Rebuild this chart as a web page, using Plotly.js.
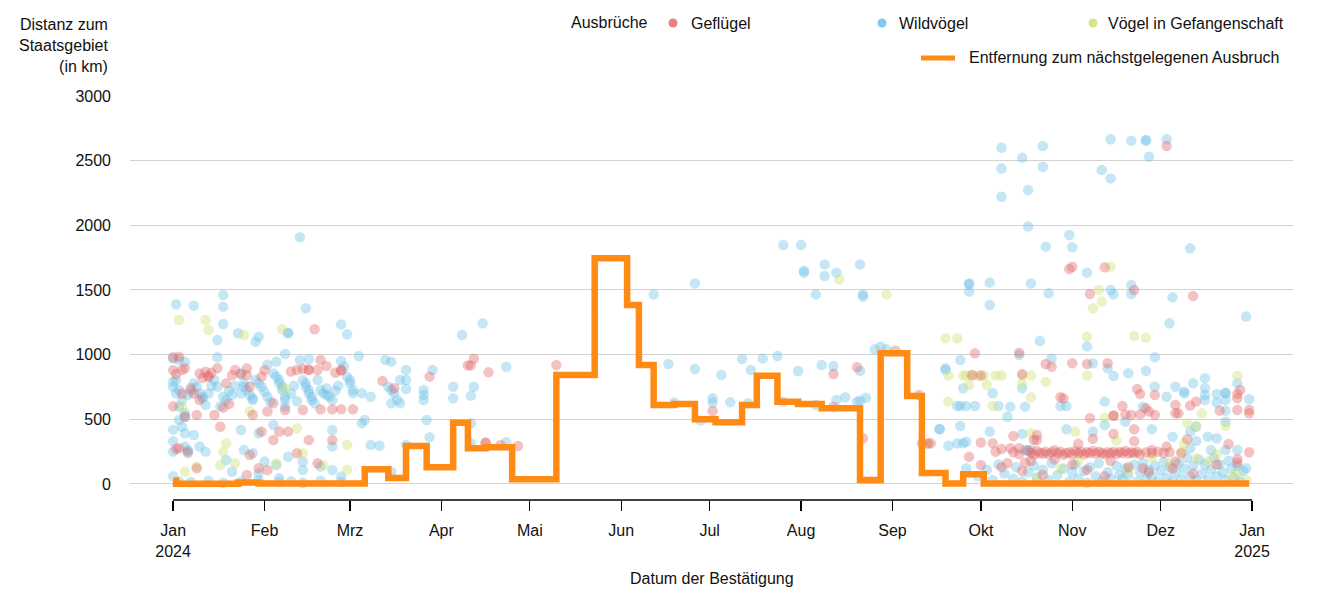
<!DOCTYPE html>
<html><head><meta charset="utf-8">
<script src="https://cdn.plot.ly/plotly-3.0.1.min.js"></script>
<style>html,body{margin:0;padding:0;background:#fff}#chart{width:1333px;height:600px}</style>
</head><body><div id="chart"></div>
<script>
// ---------- DATA ----------
const monthTickVals = ['2024-01-01','2024-02-01','2024-03-01','2024-04-01','2024-05-01','2024-06-01','2024-07-01','2024-08-01','2024-09-01','2024-10-01','2024-11-01','2024-12-01','2025-01-01'];
const monthTickText = ['Jan<br>2024','Feb','Mrz','Apr','Mai','Jun','Jul','Aug','Sep','Okt','Nov','Dez','Jan<br>2025'];
const yTickVals = [0,500,1000,1500,2000,2500,3000];

// Geflügel outbreaks: [MM-DD 2024, km]
const gefluegelPoints = [
['01-01',880],['01-01',980],['01-02',270],['01-01',600],
['01-03',984],['01-04',881],['01-05',894],['01-10',855],['01-12',868],['01-13',830],['01-13',835],['01-16',894],['01-19',778],['01-22',881],['01-26',894],['01-26',843],['01-27',752],['01-31',830],['02-04',624],['02-12',881],['02-16',881],['02-16',885],['02-19',881],['02-20',958],['02-22',912],['02-27',881],['02-27',878],['02-18',1196],['03-12',796],['03-16',740],['01-07',740],['01-10',649],['01-15',533],['01-17',443],['01-05',520],['01-09',533],['01-28',533],['01-31',405],['02-06',405],['02-09',405],['02-08',572],['02-14',572],['02-20',577],['02-24',577],['02-27',577],['03-02',577],['02-04',340],['02-16',340],['02-24',340],['01-03',276],['01-06',250],['01-09',121],['01-26',70],['01-30',121],['02-02',108],['02-12',237],['02-19',160],['01-27',224],
['01-08',700],['01-20',620],['01-24',850],['02-02',560],['01-11',820],['01-14',860],['01-21',840],['02-10',870],['02-14',890],['02-25',860],['01-18',590],['02-01',880],['01-02',850],['01-04',700],
['03-28',830],['04-10',917],['04-11',917],['04-12',969],['04-17',863],['05-10',920],['04-16',314],['04-16',320],['04-21',301],['04-27',294],
['07-02',564],['08-12',850],['08-20',902],['08-22',353],['09-02',1031],['09-10',688],['09-13',314],['09-11',314],['08-12',598],
['10-31',1662],['11-01',1680],['11-12',1675],['11-07',1469],['09-29',1010],['10-14',1015],['10-23',928],['10-25',907],['11-01',933],['11-06',928],['11-13',933],['09-28',843],['10-01',838],['10-15',850],['10-28',670],['10-29',662],['11-07',508],['11-15',528],['09-14',314],['10-01',320],['10-05',314],['10-11',276],['10-14',276],['09-27',211],['10-01',147],['10-10',160],['10-16',165],['10-20',379],['10-20',340],
['10-06',250],['10-08',270],['10-12',245],['10-14',230],['10-17',260],['10-18',240],['10-19',225],['10-20',255],['10-21',240],['10-22',235],['10-23',250],['10-24',230],['10-25',245],['10-26',260],['10-27',238],['10-28',250],['10-29',225],['10-30',240],['10-31',245],['11-01',230],['11-02',255],['11-03',240],['11-04',250],['11-05',230],['11-06',245],['11-07',240],['11-08',255],['11-09',235],['11-10',250],['11-11',240],['11-12',230],['11-13',245],['11-14',238],['11-15',250],['11-16',232],['11-17',248],['11-18',240],['11-19',255],['11-20',235],['11-21',245],['11-22',240],['11-23',250],['11-24',230],['11-26',245],['11-28',240],['11-30',250],['12-02',240],['12-04',245],
['10-08',130],['10-15',100],['10-22',70],['11-01',150],['11-06',110],['11-12',60],['11-20',130],['11-27',90],['12-05',120],['12-12',80],['12-20',150],['10-18',180],['10-26',190],['11-03',310],['11-08',350],['11-14',180],['11-22',330],['10-12',370],['10-19',340],
['12-03',2613],['11-22',1500],['12-12',1453],['11-23',734],['11-24',696],['11-29',688],['12-27',696],['12-28',727],['12-27',662],['12-27',572],['12-31',572],['12-31',546],['12-13',637],['12-11',606],['12-07',546],['12-06',546],['11-26',585],['11-27',560],['11-29',533],['11-21',533],['11-19',538],['11-15',530],['11-24',538],['12-06',611],['11-18',603],['12-21',567],['11-15',387],['11-22',423],['12-10',345],['12-24',309],['12-31',245],['12-27',191],['12-27',165],['12-03',289],['11-28',263],['12-08',237],['12-06',173],['11-25',121]
];

// Wildvögel outbreaks
const wildvoegelPoints = [
['01-02',1389],['01-08',1379],['01-18',1461],['01-18',1371],['01-18',1237],['01-16',1113],['01-23',1165],['01-30',1139],['01-29',1100],['02-09',1165],['02-09',1170],['02-15',1358],['02-27',1234],['02-29',1157],['03-04',990],['03-15',946],['02-08',1005],['02-16',966],['02-27',951],['02-02',923],['02-05',946],['01-16',979],['01-03',959],['01-05',946],['02-13',1908],
['01-01',970],['01-01',790],['01-01',750],['01-01',420],['01-01',330],['01-01',250],['01-01',60],
['01-02',804],['01-02',701],['01-03',727],['01-03',598],['01-04',649],['01-05',546],['01-05',520],['01-08',778],['01-09',752],['01-10',701],['01-11',675],['01-11',662],['01-12',611],['01-15',804],['01-16',752],['01-18',675],['01-19',649],['01-24',855],['01-25',778],['01-25',752],['01-26',727],['01-27',688],['01-28',662],['01-28',649],['01-29',804],['01-30',778],['01-31',752],['02-01',714],['02-02',675],['02-03',636],['02-04',855],['02-05',830],['02-06',804],['02-06',778],['02-07',752],['02-07',727],['02-08',675],['02-08',649],['02-08',598],['02-13',958],['02-14',804],['02-15',778],['02-15',752],['02-16',727],['02-16',701],['02-17',675],['02-17',649],['02-18',624],['02-19',804],['02-20',727],['02-21',701],['02-22',688],['02-23',675],['02-24',649],['02-28',907],['02-29',830],['03-01',804],['03-01',778],['03-02',727],['03-02',701],['03-05',701],['03-08',675],['03-13',958],['03-14',752],['03-15',727],['03-16',701],['03-17',649],['03-18',624],
['01-06',690],['01-07',720],['01-13',700],['01-14',760],['01-20',720],['01-21',690],['01-22',760],['02-10',700],['02-11',760],['02-25',720],['02-26',760],['01-17',600],['02-12',640],['02-22',740],['01-24',700],
['01-03',495],['01-04',443],['01-05',392],['01-05',289],['01-06',263],['01-06',237],['01-08',379],['01-10',289],['01-12',250],['01-19',185],['01-21',95],['01-24',417],['01-25',263],['01-28',237],['01-30',392],['01-30',82],['02-01',173],['02-04',456],['02-05',147],['02-06',44],['02-09',211],['02-14',173],['02-14',108],['02-20',134],['02-24',417],['02-24',108],['02-24',289],['02-27',57],['03-05',469],['03-06',495],['03-08',302],['03-11',296],
['01-03',20],['01-07',15],['01-13',25],['01-18',10],['01-24',20],['01-30',30],['02-06',15],['02-10',20],['02-14',10],['02-20',25],['02-27',15],
['03-20',881],['03-29',881],['03-18',804],['03-20',804],['03-20',734],['03-26',727],['03-26',688],['03-26',649],['03-15',624],['04-05',752],['04-05',662],['04-08',1152],['04-15',1242],['04-12',752],['04-11',683],['04-23',907],['03-27',495],['03-28',361],['04-11',469],['04-11',314],['04-23',322],['03-15',95],['03-20',302],
['06-12',1466],['06-26',1551],['06-17',928],['06-26',889],['07-05',843],['07-02',629],['07-02',662],['07-08',631],['07-12',966],['07-15',881],['07-19',971],['07-24',990],['07-26',1848],['08-01',1848],['07-31',874],['08-02',1649],['08-02',1634],['08-09',1698],['08-09',1608],['08-13',1634],['08-06',1466],['08-21',1698],['08-22',1466],['08-22',1450],['08-08',920],['08-12',912],['08-21',876],['08-13',649],['08-16',670],['08-20',636],['08-21',644],['08-23',667],['08-26',1041],['08-28',1062],['08-30',1041],['09-19',881],['09-17',425],['09-20',296],['06-19',629],['06-28',490],['07-14',624],['07-26',636],['08-06',611],
['10-08',2600],['10-08',2440],['10-08',2221],['10-15',2523],['10-22',2613],['10-22',2453],['10-17',2273],['10-17',1990],['10-23',1835],['10-31',1925],['11-01',1830],['11-06',1634],['11-14',2665],['11-11',2428],['11-14',2363],['09-27',1551],['09-27',1545],['09-27',1487],['10-04',1557],['10-04',1384],['10-18',1551],['10-24',1474],['10-21',1106],['11-06',1062],['11-14',1500],['11-15',1466],['09-24',959],['09-19',894],['10-14',997],['10-25',971],['11-08',933],['11-13',894],['11-15',835],['09-25',740],['10-05',701],['10-15',740],
['09-23',603],['09-24',603],['09-26',603],['09-29',603],['10-07',603],['10-11',598],['10-16',598],['10-28',603],['10-30',603],['10-10',520],['11-12',637],['11-12',456],['09-17',423],['09-24',448],['10-04',405],['09-23',314],['09-25',314],['09-26',327],['10-15',387],['10-30',423],['11-08',405],['10-16',263],['10-18',263],['10-17',255],
['09-26',120],['09-30',60],['10-03',110],['10-05',30],['10-07',150],['10-09',80],['10-12',40],['10-13',130],['10-15',20],['10-17',90],['10-19',140],['10-20',50],['10-22',110],['10-24',30],['10-25',160],['10-27',70],['10-29',120],['10-31',20],['11-01',90],['11-02',150],['11-03',40],['11-05',100],['11-06',10],['11-07',130],['11-09',60],['11-10',160],['11-11',20],['11-13',90],['11-14',40],['11-16',140],['11-17',70],
['11-21',2654],['11-26',2660],['11-26',2655],['12-03',2665],['11-27',2531],['12-11',1822],['11-21',1538],['11-21',1469],['12-05',1443],['12-04',1242],['12-30',1294],['11-29',979],['11-20',856],['11-26',876],['12-16',817],['12-12',778],['11-29',752],['12-06',752],['12-03',675],['12-09',701],['12-09',714],['12-16',740],['12-16',688],['12-16',649],['12-20',696],['12-23',701],['12-23',706],['12-23',649],['12-20',629],['12-23',567],['12-27',778],['12-31',655],['11-19',482],['11-25',598],['11-28',423],['12-11',405],['12-13',443],['12-17',366],['12-20',353],['12-23',482],['12-05',366],['12-13',333],['12-11',276],['12-18',263],['12-23',263],['12-27',263],['12-30',121],
['11-18',40],['11-19',120],['11-20',70],['11-22',150],['11-23',20],['11-24',90],['11-25',160],['11-26',40],['11-27',110],['11-28',60],['11-29',140],['11-30',20],['12-01',100],['12-02',170],['12-03',50],['12-04',130],['12-05',20],['12-06',90],['12-07',160],['12-08',40],['12-09',120],['12-10',200],['12-11',60],['12-12',140],['12-13',30],['12-14',190],['12-15',80],['12-16',150],['12-17',30],['12-18',110],['12-19',200],['12-20',60],['12-21',150],['12-22',90],['12-23',30],['12-24',180],['12-25',120],['12-26',50],['12-27',140],['12-28',20],['12-29',100]
];

// Vögel in Gefangenschaft
const gefangenschaftPoints = [
['01-03',1268],['01-12',1268],['01-13',1190],['01-25',1152],['02-07',1196],['02-08',740],['01-04',598],['01-27',564],['02-12',430],['01-19',314],['01-18',250],['01-09',134],['01-05',95],['01-22',160],['02-05',160],['02-14',237],['02-21',147],['02-29',302],['02-29',108],['01-17',147],
['08-14',1582],['08-30',1466],['09-19',1126],['09-20',838],['09-20',637],['09-13',307],
['09-23',1126],['09-25',838],['09-26',838],['09-28',838],['09-30',838],['10-02',838],['10-06',838],['10-08',838],['09-27',765],['10-03',765],['10-15',838],['10-18',838],['10-15',778],['10-23',791],['10-18',670],['10-05',603],['11-06',1139],['11-06',838],['11-10',1500],['11-11',1410],['11-08',1358],['11-14',1680],['11-12',513],['10-18',392],['11-02',405],
['11-22',1144],['11-26',1131],['12-27',835],['12-15',546],['12-10',469],['12-23',448],['12-13',448],['12-09',314],['11-16',335],['12-13',198],['12-04',160],['12-17',173],['12-27',82],['12-30',31],
['10-20',50],['10-28',120],['11-03',180],['11-20',100],['11-28',200],['12-08',250],['12-20',230],['12-25',60]
];

// Entfernung zum nächstgelegenen Ausbruch (step line)
const distanceDates = ['2024-01-01','2024-01-02','2024-01-23','2024-01-30','2024-03-06','2024-03-14','2024-03-20','2024-03-27','2024-04-05','2024-04-10','2024-04-16','2024-04-25','2024-05-10','2024-05-23','2024-06-03','2024-06-07','2024-06-12','2024-06-19','2024-06-26','2024-07-03','2024-07-12','2024-07-17','2024-07-24','2024-07-31','2024-08-08','2024-08-21','2024-08-28','2024-09-06','2024-09-11','2024-09-19','2024-09-25','2024-10-02','2024-12-31'];
const distanceKm = [25,2,12,3,114,46,294,129,474,276,284,36,843,1745,1384,920,611,619,500,477,611,837,636,619,585,31,1010,680,85,3,75,3,3];

// ---------- CHART ----------
const FONT = 'Liberation Sans, Arial, sans-serif';
const TXT = '#111';
const FS = 16;
const W = 1333, H = 600, L = 130, R = 40, T = 96, B = 100;
const pw = W - L - R, ph = H - T - B;
const px = x => (x - L) / pw;
function paperY(y){ return (T + ph - y) / ph; }

function pts(arr){ return {x: arr.map(p => '2024-' + p[0]), y: arr.map(p => p[1])}; }

const C_RED = '#e06a6a', C_BLUE = '#6ec0e6', C_GREEN = '#cde070', C_ORANGE = '#ff8a14';

const mk = (arr, color, name) => Object.assign(pts(arr), {
  type: 'scatter', mode: 'markers', name: name, showlegend: false, hoverinfo: 'skip',
  marker: {size: 10.5, color: color, opacity: 0.4, line: {width: 0}}
});

const traces = [
  mk(wildvoegelPoints, C_BLUE, 'Wildvögel'),
  mk(gefangenschaftPoints, C_GREEN, 'Vögel in Gefangenschaft'),
  mk(gefluegelPoints, C_RED, 'Geflügel'),
  {type: 'scatter', mode: 'lines', x: distanceDates, y: distanceKm, showlegend: false, hoverinfo: 'skip',
   line: {shape: 'hv', color: C_ORANGE, width: 6.5}, name: 'Entfernung zum nächstgelegenen Ausbruch'}
];

const ann = (text, x, y, xanchor, extra) => Object.assign({
  text: text, xref: 'paper', yref: 'paper', x: x, y: y, xanchor: xanchor, yanchor: 'middle',
  showarrow: false, font: {family: FONT, size: FS, color: TXT}
}, extra || {});

const dot = (cx, cy, color) => ({
  type: 'circle', xref: 'paper', yref: 'paper', xsizemode: 'pixel', ysizemode: 'pixel',
  xanchor: px(cx), yanchor: paperY(cy), x0: -4.5, x1: 4.5, y0: -4.5, y1: 4.5,
  fillcolor: color, line: {width: 0}
});

const layout = {
  width: W, height: H,
  margin: {l: L, r: R, t: T, b: B, pad: 0},
  paper_bgcolor: '#fff', plot_bgcolor: '#fff',
  font: {family: FONT, size: FS, color: TXT},
  showlegend: false, hovermode: false,
  xaxis: {
    type: 'date', range: ['2023-12-17 09:00', '2025-01-14 21:00'],
    tickmode: 'array', tickvals: monthTickVals, ticktext: monthTickText,
    ticks: 'outside', ticklen: 10, tickwidth: 1.3, tickcolor: '#000',
    showgrid: false, zeroline: false, showline: false,
    ticklabelstandoff: 6,
    tickfont: {family: FONT, size: FS, color: TXT}
  },
  yaxis: {
    range: [-124, 3000], tickmode: 'array', tickvals: yTickVals,
    showgrid: true, gridcolor: '#d2d2d2', gridwidth: 1, zeroline: false, showline: false,
    ticks: '', ticklabelstandoff: 18,
    tickfont: {family: FONT, size: FS, color: TXT}
  },
  shapes: [
    {type: 'line', xref: 'x', yref: 'paper', x0: '2024-01-01', x1: '2025-01-01', y0: 0, y1: 0,
     line: {color: '#000', width: 1.3}},
    dot(673, 23, '#e58282'), dot(882, 23, '#82c9ea'), dot(1093, 23, '#d6e684'),
    {type: 'line', xref: 'paper', yref: 'paper', x0: px(921), x1: px(955), y0: paperY(58), y1: paperY(58),
     line: {color: C_ORANGE, width: 5}}
  ],
  annotations: [
    ann('Distanz zum<br>Staatsgebiet<br>(in km)', px(111), paperY(45), 'right', {align: 'right'}),
    ann('Datum der Bestätigung', 0.5, paperY(578), 'center'),
    ann('Ausbrüche', px(569), paperY(22), 'left'),
    ann('Geflügel', px(689), paperY(23), 'left'),
    ann('Wildvögel', px(897), paperY(23), 'left'),
    ann('Vögel in Gefangenschaft', px(1106), paperY(23), 'left'),
    ann('Entfernung zum nächstgelegenen Ausbruch', px(967), paperY(58), 'left')
  ]
};

Plotly.newPlot('chart', traces, layout, {displayModeBar: false, staticPlot: true});
</script>
</body></html>
